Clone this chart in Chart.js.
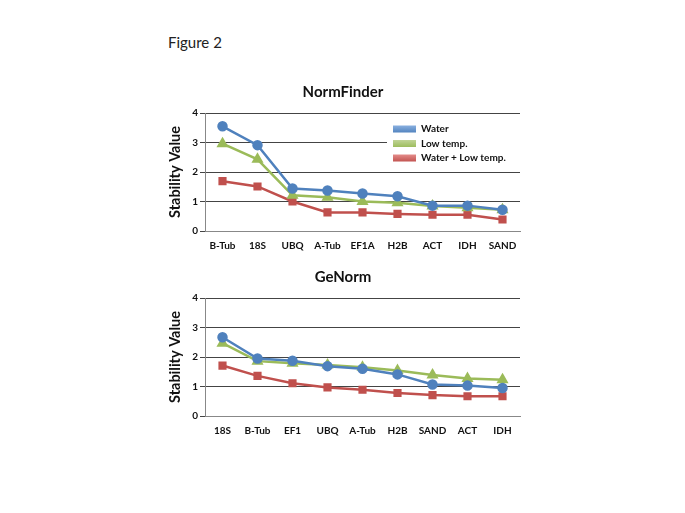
<!DOCTYPE html>
<html>
<head>
<meta charset="utf-8">
<script src="https://cdn.jsdelivr.net/npm/chart.js@4.4.1/dist/chart.umd.min.js"></script>
<style>
  body { margin: 0; background: #fff; width: 685px; height: 513px; position: relative; overflow: hidden; }
  #fig { position: absolute; left: 168px; top: 33px; font-family: Lato, "Open Sans", sans-serif; font-size: 15px; color: #222; }
  canvas { position: absolute; }
  #c1 { left: 150px; top: 80px; }
  #c2 { left: 150px; top: 265px; }
</style>
</head>
<body>
<div id="fig">Figure 2</div>
<canvas id="c1" width="380" height="175"></canvas>
<canvas id="c2" width="380" height="175"></canvas>
<script>
// series names and colours
const seriesNames = ["Water", "Low temp.", "Water + Low temp."];
const seriesColors = ["#4f81bd", "#9bbb59", "#c0504d"];
const lightColors = ["#8db3e2", "#c3d69b", "#e6908e"];
const seriesMarkers = ["circle", "triangle", "rect"];

// NormFinder
const nfGenes = ["B-Tub", "18S", "UBQ", "A-Tub", "EF1A", "H2B", "ACT", "IDH", "SAND"];
const nfWater = [3.55, 2.91, 1.44, 1.37, 1.27, 1.18, 0.86, 0.86, 0.72];
const nfLowTemp = [2.96, 2.43, 1.21, 1.14, 1.0, 0.96, 0.85, 0.79, 0.72];
const nfBoth = [1.69, 1.51, 1.0, 0.63, 0.63, 0.58, 0.55, 0.55, 0.39];

// GeNorm
const gnGenes = ["18S", "B-Tub", "EF1", "UBQ", "A-Tub", "H2B", "SAND", "ACT", "IDH"];
const gnWater = [2.67, 1.95, 1.87, 1.69, 1.6, 1.41, 1.07, 1.03, 0.95];
const gnLowTemp = [2.47, 1.86, 1.79, 1.73, 1.65, 1.54, 1.39, 1.27, 1.23];
const gnBoth = [1.71, 1.36, 1.11, 0.97, 0.89, 0.78, 0.71, 0.67, 0.67];

const yTicks = [0, 1, 2, 3, 4];

const FONT = 'Lato, "Open Sans", sans-serif';

// legend drawn inside the plot, on a white box
const insideLegend = {
  id: 'insideLegend',
  afterDraw(chart, args, opts) {
    if (!opts.show) return;
    const ctx = chart.ctx;
    const a = chart.chartArea;
    const x0 = a.right - 133, y0 = a.top + 11;
    ctx.save();
    ctx.fillStyle = '#fff';
    ctx.fillRect(x0, y0, 133, 40);
    ctx.font = 'bold 10px ' + FONT;
    ctx.textBaseline = 'middle';
    chart.data.datasets.forEach((ds, i) => {
      const y = y0 + 5 + i * 14.5;
      const g = ctx.createLinearGradient(0, y - 4, 0, y + 4);
      g.addColorStop(0, ds.legendLight);
      g.addColorStop(1, ds.borderColor);
      ctx.fillStyle = g;
      ctx.fillRect(x0 + 6, y - 3.5, 23, 7);
      ctx.fillStyle = '#111';
      ctx.fillText(ds.label, x0 + 34, y);
    });
    ctx.restore();
  }
};

function makeDatasets(vals) {
  // blue drawn on top, red at the bottom
  return vals.map((v, i) => ({
    label: seriesNames[i],
    data: v,
    order: i,
    borderColor: seriesColors[i],
    backgroundColor: seriesColors[i],
    legendLight: lightColors[i],
    pointStyle: seriesMarkers[i],
    pointRadius: i === 1 ? 4.5 : 4,
    borderWidth: 2.5,
    tension: 0,
    fill: false
  }));
}

function makeChart(id, title, labels, vals, showLegend) {
  return new Chart(document.getElementById(id), {
    type: 'line',
    data: { labels: labels, datasets: makeDatasets(vals) },
    options: {
      responsive: false,
      animation: false,
      layout: { padding: { left: 16, right: 10, top: 0, bottom: 0 } },
      plugins: {
        legend: { display: false },
        tooltip: { enabled: false },
        title: {
          display: true,
          text: title,
          color: '#111',
          font: { family: FONT, size: 15, weight: 'bold', lineHeight: 1.2 },
          padding: { top: 3, bottom: 12 }
        },
        insideLegend: { show: showLegend }
      },
      scales: {
        x: {
          offset: true,
          grid: { display: false, drawTicks: false },
          border: { display: true, color: '#888', width: 1 },
          ticks: { color: '#111', padding: 9, maxRotation: 0, autoSkip: false,
                   font: { family: FONT, size: 10, weight: 'bold' } },
          afterFit(s) { s.height = 24; }
        },
        y: {
          min: 0, max: 4,
          afterBuildTicks(s) { s.ticks = yTicks.map(v => ({ value: v })); },
          grid: { color: '#444', lineWidth: 1, tickLength: 5, drawTicks: true },
          border: { display: true, color: '#888', width: 1 },
          ticks: { color: '#111', padding: 2,
                   font: { family: FONT, size: 10, weight: 'bold' } },
          title: { display: true, text: 'Stability Value', color: '#111', padding: 1,
                   font: { family: FONT, size: 14.5, weight: 'bold' } },
          afterFit(s) { s.width = 39; }
        }
      }
    },
    plugins: [insideLegend]
  });
}

makeChart('c1', 'NormFinder', nfGenes, [nfWater, nfLowTemp, nfBoth], true);
makeChart('c2', 'GeNorm', gnGenes, [gnWater, gnLowTemp, gnBoth], false);
</script>
</body>
</html>
